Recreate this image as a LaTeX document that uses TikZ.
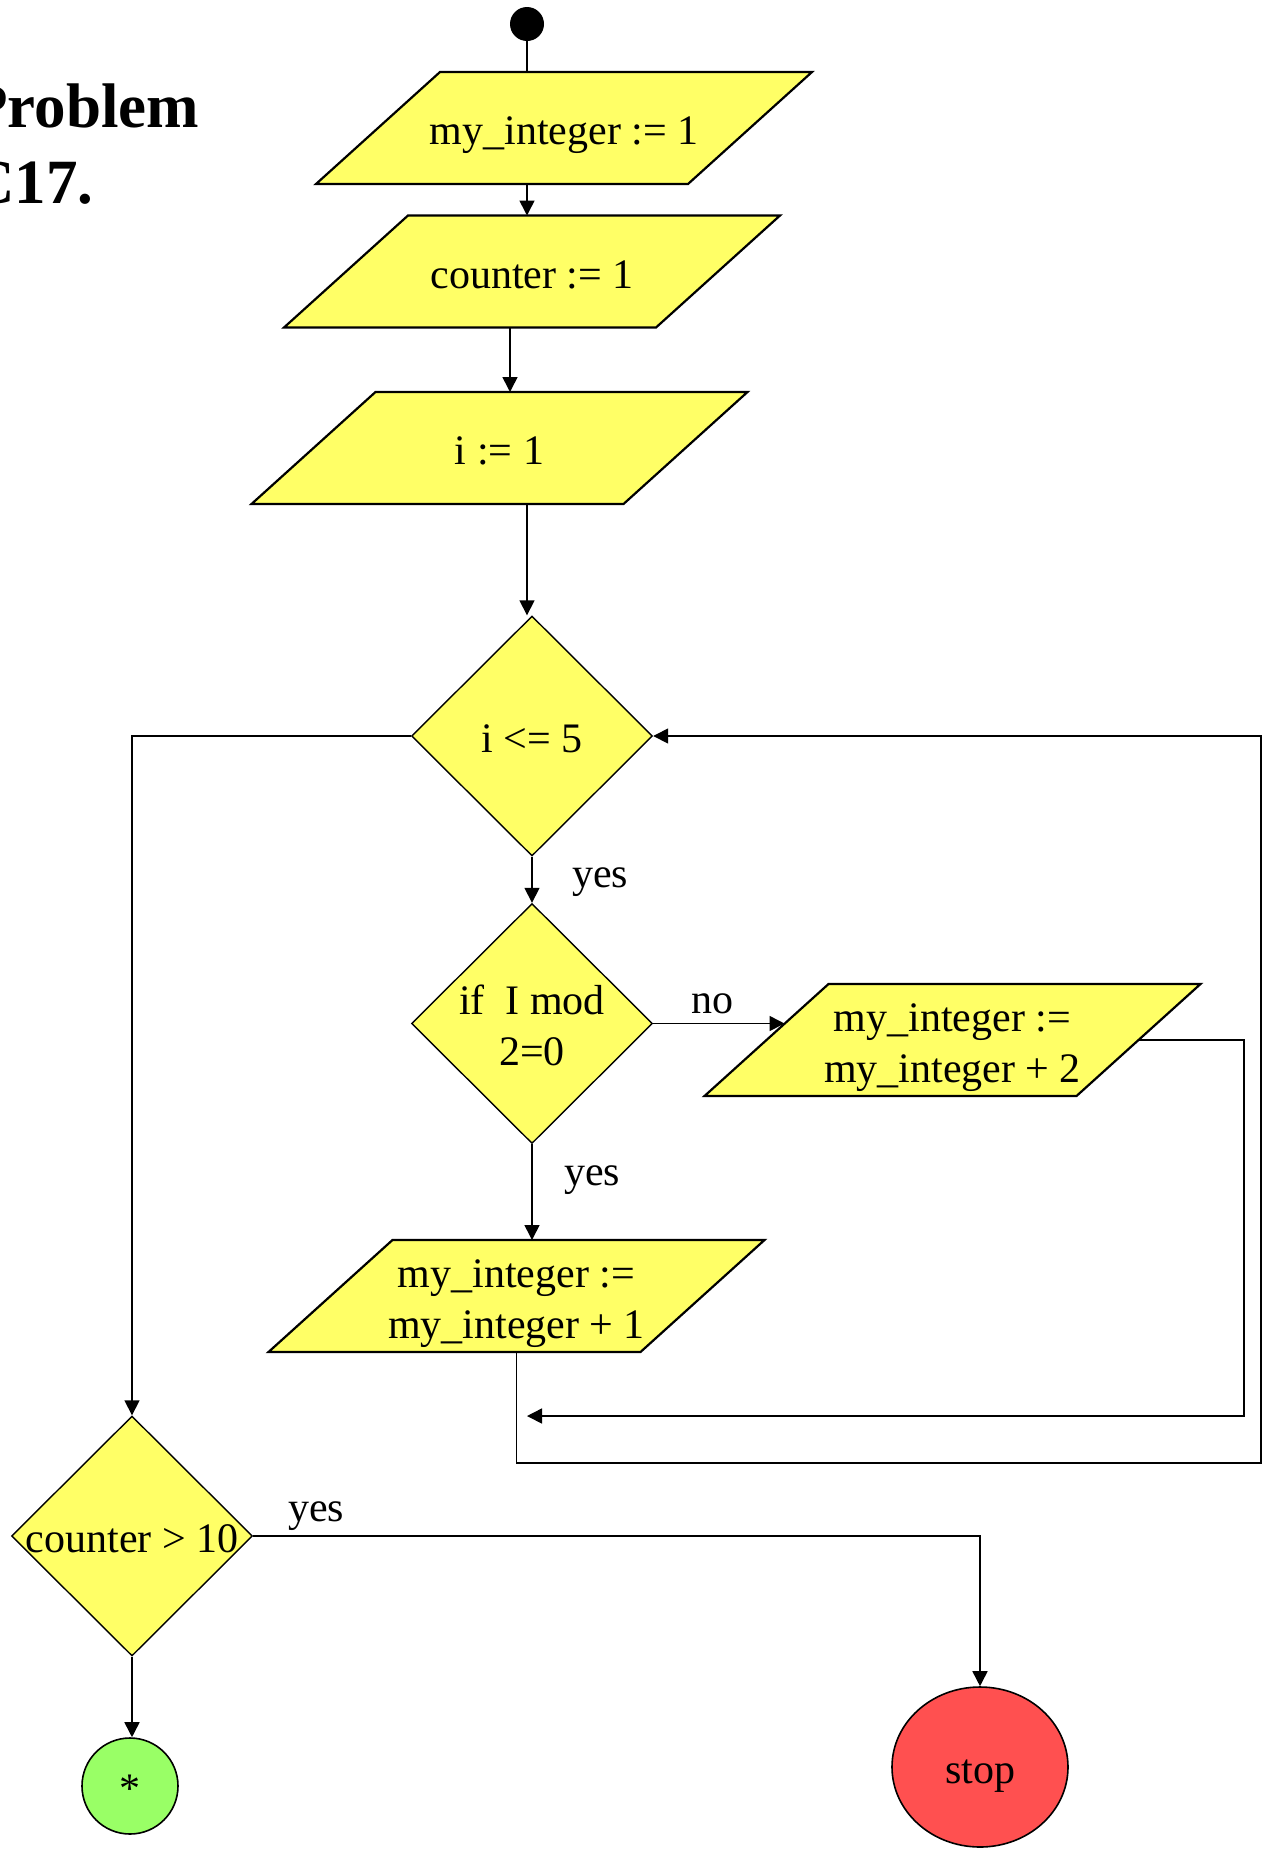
\documentclass[tikz,border=0pt]{standalone}
\usepackage{fontspec}
\setmainfont{Liberation Serif}
\usetikzlibrary{shapes.geometric,arrows.meta,backgrounds,calc}
\definecolor{boxyellow}{HTML}{FFFF66}
\definecolor{stopred}{HTML}{FF5050}
\definecolor{stargreen}{HTML}{99FF66}
\newcommand\lblfont{\fontsize{42}{51}\selectfont}
\newcommand\paraoutline[1]{\path[paraedge] ([xshift=62pt]#1.north west) -- ([xshift=62pt]#1.north east) -- ([xshift=-62pt]#1.south east) -- ([xshift=-62pt]#1.south west) -- cycle;}
\begin{document}
\begin{tikzpicture}[x=1pt,y=-1pt,
  conn/.style={line width=1.6pt},
  arr/.style={conn,-{Triangle[length=15pt,width=15pt]}},
  boxtext/.style={font=\lblfont,align=center,text height=33pt,text depth=0pt},
  twolines/.style={text height=84pt},
  parabody/.style={rectangle,inner sep=0pt,outer sep=0pt,minimum width=372pt,minimum height=112pt,boxtext},
  paraedge/.style={fill=boxyellow,draw=black,line width=2.2pt,line join=miter},
  decision/.style={diamond,aspect=1,inner sep=0pt,minimum width=241pt,minimum height=240pt,fill=boxyellow,draw=black,line width=1.4pt},
  lbl/.style={anchor=base,inner sep=0pt,font=\lblfont},
  titlefont/.style={anchor=base west,inner sep=0pt,font=\fontsize{63}{76}\selectfont\bfseries}]
\useasboundingbox (0,0) rectangle (1266,1850);

% title
\node[titlefont] (title1) at (-31,127) {Problem};
\node[titlefont] (title2) at (-31,203) {C17.};

% start
\node[circle,fill=black,minimum size=34pt,inner sep=0pt] (start) at (527,24) {};

% process boxes
\node[parabody] (p1) at (564,128) {my\_integer := 1};
\node[parabody] (p2) at (532,271.5) {counter := 1};
\node[parabody] (p3) at (499.5,448) {i := 1};
\node[parabody,twolines] (p4) at (952.5,1040) {my\_integer :=\\my\_integer + 2};
\node[parabody,twolines] (p5) at (516.5,1296) {my\_integer :=\\my\_integer + 1};
\begin{scope}[on background layer]
\paraoutline{p1}
\paraoutline{p2}
\paraoutline{p3}
\paraoutline{p4}
\paraoutline{p5}
\end{scope}

% decisions
\node[decision,label={[boxtext]center:{i <= 5}}] (d1) at (532,736) {};
\node[decision,label={[boxtext,twolines]center:{if\ \ I mod\\2=0}}] (d2) at (532,1023.5) {};
\node[decision,label={[boxtext]center:{counter > 10}}] (d3) at (132,1536) {};

% terminals
\node[ellipse,draw=black,line width=1.6pt,fill=stopred,inner sep=0pt,minimum width=176pt,minimum height=160pt,boxtext] (stop) at (980,1767) {stop};
\node[ellipse,draw=black,line width=1.6pt,fill=stargreen,inner sep=0pt,minimum width=96pt,minimum height=96pt,boxtext] (star) at (130,1786) {*};

% labels
\node[lbl] (yes1) at (600,887) {yes};
\node[lbl] (no1) at (712,1013) {no};
\node[lbl] (yes2) at (592,1185) {yes};
\node[lbl] (yes3) at (316,1521) {yes};

% connectors
\draw[conn] (start.south) -- (start |- p1.north);
\draw[arr] (start |- p1.south) -- (start |- p2.north);
\draw[arr] ([xshift=-22pt]p2.south) -- ([xshift=-22pt]p2.south |- p3.north);
\draw[arr] (start |- p3.south) -- (start |- d1.north);
\draw[arr] (d1.south) -- (d2.north);
\coordinate (p4in) at ([xshift=18pt]p4.west |- d2.east);
\draw[arr] (d2.east) -- (p4in);
\draw[arr] (d2.south) -- (p5.north -| d2.south);
\coordinate (j1) at (527,1416);
\draw[arr] (p4.east) -| (1244,1416) -- (j1);
\draw[arr] (p5.south) |- (1261,1463) |- (d1.east);
\draw[arr] (d1.west) -| (d3.north);
\draw[arr] (d3.east) -| (stop.north);
\draw[arr] (d3.south) -- (star.north -| d3.south);
\end{tikzpicture}
\end{document}
